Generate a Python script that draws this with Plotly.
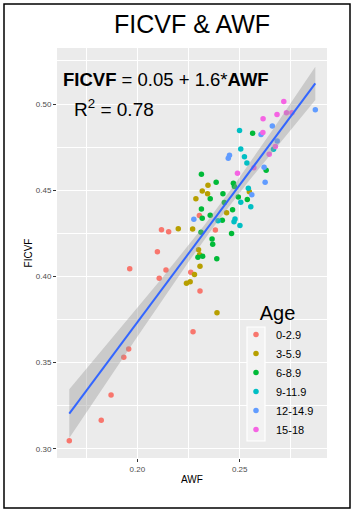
import numpy as np
import plotly.graph_objects as go

# ---------------- data ----------------
age_groups = ["0-2.9", "3-5.9", "6-8.9", "9-11.9", "12-14.9", "15-18"]
group_colors = ["#F8766D", "#B79F00", "#00BA38", "#00BFC4", "#619CFF", "#F564E3"]

awf_0_3 = [0.1668, 0.1824, 0.1872, 0.1934, 0.1958, 0.1963, 0.2098, 0.2107,
           0.2140, 0.2118, 0.2153, 0.2261, 0.2306, 0.2272, 0.2303, 0.2381]
ficvf_0_3 = [0.3046, 0.3165, 0.3312, 0.3530, 0.3578, 0.4044, 0.4143, 0.3989,
             0.4037, 0.4270, 0.4259, 0.4024, 0.3915, 0.3679, 0.4353, 0.4269]

awf_3_6 = [0.2200, 0.2270, 0.2299, 0.2304, 0.2306, 0.2279, 0.2240, 0.2258,
           0.2389, 0.2345, 0.2317, 0.2343, 0.2286, 0.2436, 0.2547]
ficvf_3_6 = [0.4276, 0.4275, 0.4155, 0.4125, 0.4058, 0.4011, 0.3960, 0.3968,
             0.3789, 0.4528, 0.4495, 0.4479, 0.4451, 0.4369, 0.4491]

awf_6_9 = [0.2313, 0.2385, 0.2469, 0.2474, 0.2418, 0.2356, 0.2493, 0.2537,
           0.2425, 0.2313, 0.2465, 0.2356, 0.2317, 0.2415, 0.2311, 0.2460,
           0.2365, 0.2368, 0.2296, 0.2319, 0.2388, 0.2563, 0.2629]
ficvf_6_9 = [0.4592, 0.4546, 0.4540, 0.4521, 0.4479, 0.4451, 0.4460, 0.4446,
             0.4428, 0.4391, 0.4386, 0.4355, 0.4337, 0.4325, 0.4256, 0.4249,
             0.4217, 0.4186, 0.4111, 0.4116, 0.4102, 0.4831, 0.4616]

awf_9_12 = [0.2499, 0.2505, 0.2523, 0.2535, 0.2665, 0.2542, 0.2505, 0.2554,
            0.2477, 0.2472, 0.2394, 0.2501]
ficvf_9_12 = [0.4847, 0.4739, 0.4694, 0.4657, 0.4738, 0.4511, 0.4430, 0.4404,
              0.4333, 0.4317, 0.4322, 0.4295]

awf_12_15 = [0.2869, 0.2659, 0.2604, 0.2683, 0.2450, 0.2444, 0.2619, 0.2624,
             0.2559, 0.2276]
ficvf_12_15 = [0.4967, 0.4872, 0.4823, 0.4785, 0.4702, 0.4685, 0.4633, 0.4546,
               0.4474, 0.4332]

awf_15_18 = [0.2715, 0.2682, 0.2728, 0.2755, 0.2614, 0.2613, 0.2674, 0.2644,
             0.2569, 0.2489]
ficvf_15_18 = [0.5015, 0.4939, 0.4950, 0.4950, 0.4915, 0.4835, 0.4753, 0.4709,
               0.4630, 0.4598]

x_tickvals = [0.20, 0.25]
x_ticktext = ["0.20", "0.25"]
y_tickvals = [0.30, 0.35, 0.40, 0.45, 0.50]
y_ticktext = ["0.30", "0.35", "0.40", "0.45", "0.50"]
x_minor = [0.175, 0.225, 0.275]
y_minor = [0.325, 0.375, 0.425, 0.475, 0.525]

groups_x = [awf_0_3, awf_3_6, awf_6_9, awf_9_12, awf_12_15, awf_15_18]
groups_y = [ficvf_0_3, ficvf_3_6, ficvf_6_9, ficvf_9_12, ficvf_12_15, ficvf_15_18]

# ---------------- regression (lm with 95% CI) ----------------
X = np.concatenate([np.array(g) for g in groups_x])
Y = np.concatenate([np.array(g) for g in groups_y])
n = len(X)
slope, intercept = np.polyfit(X, Y, 1)
xs = np.linspace(X.min(), X.max(), 100)
yhat = intercept + slope * xs
resid = Y - (intercept + slope * X)
s = np.sqrt(np.sum(resid ** 2) / (n - 2))
xm = X.mean()
sxx = np.sum((X - xm) ** 2)
se = s * np.sqrt(1.0 / n + (xs - xm) ** 2 / sxx)
tval = 1.99
upper = yhat + tval * se
lower = yhat - tval * se

# ---------------- figure ----------------
W, H = 354, 512
ML, MR, MT, MB = 57, 27, 48, 54
PW, PH = W - ML - MR, H - MT - MB

def px_x(p):
    return (p - ML) / PW

def px_y(p):
    return (H - MB - p) / PH

fig = go.Figure()
for name, col, gx, gy in zip(age_groups, group_colors, groups_x, groups_y):
    fig.add_trace(go.Scatter(x=gx, y=gy, mode="markers", name=name,
                             marker=dict(color=col, size=5.5, line=dict(width=0))))

fig.add_trace(go.Scatter(x=np.concatenate([xs, xs[::-1]]),
                         y=np.concatenate([upper, lower[::-1]]),
                         fill="toself", fillcolor="rgba(153,153,153,0.4)",
                         line=dict(width=0), mode="lines", showlegend=False,
                         hoverinfo="skip"))
fig.add_trace(go.Scatter(x=xs, y=yhat, mode="lines", showlegend=False,
                         line=dict(color="#3366FF", width=2)))

fig.update_layout(
    width=W, height=H,
    margin=dict(l=ML, r=MR, t=MT, b=MB),
    paper_bgcolor="white", plot_bgcolor="#EBEBEB",
    font=dict(family="Liberation Sans, Arial, sans-serif", color="black"),
    title=dict(text="FICVF & AWF", x=0.5, xref="paper", xanchor="center",
               y=1 - 24 / H, yanchor="middle",
               font=dict(size=25, color="black")),
    showlegend=True,
    legend=dict(x=px_x(236), y=px_y(294), xanchor="left", yanchor="top",
                bgcolor="rgba(0,0,0,0)", borderwidth=0,
                font=dict(size=11, color="black"),
                title=dict(text="Age", side="top center", font=dict(size=20)),
                tracegroupgap=0),
    xaxis=dict(range=[0.1608, 0.2926], tickvals=x_tickvals, ticktext=x_ticktext,
               showgrid=True, gridcolor="white", gridwidth=1.1, zeroline=False,
               ticks="outside", ticklen=3, tickcolor="#333333", tickwidth=1,
               tickfont=dict(size=8, color="#4D4D4D"),
               minor=dict(tickvals=x_minor, showgrid=True, gridcolor="white",
                          gridwidth=0.5),
               title=dict(text="AWF", font=dict(size=10, color="black"), standoff=3),
               automargin=False),
    yaxis=dict(range=[0.2946, 0.5325], tickvals=y_tickvals, ticktext=y_ticktext,
               showgrid=True, gridcolor="white", gridwidth=1.1, zeroline=False,
               ticks="outside", ticklen=3, tickcolor="#333333", tickwidth=1,
               tickfont=dict(size=8, color="#4D4D4D"),
               minor=dict(tickvals=y_minor, showgrid=True, gridcolor="white",
                          gridwidth=0.5),
               title=dict(text="FICVF", font=dict(size=10, color="black"), standoff=1),
               automargin=False),
    annotations=[
        dict(text="<b>FICVF</b> = 0.05 + 1.6*<b>AWF</b>", xref="paper", yref="paper",
             x=px_x(61), y=px_y(80), xanchor="left", yanchor="middle",
             showarrow=False, font=dict(size=18.5, color="black")),
        dict(text="R<sup>2</sup> = 0.78", xref="paper", yref="paper",
             x=px_x(72), y=px_y(108), xanchor="left", yanchor="middle",
             showarrow=False, font=dict(size=19, color="black")),
    ],
    shapes=[
        dict(type="rect", xref="paper", yref="paper",
             x0=px_x(247), x1=px_x(265), y0=px_y(441), y1=px_y(327),
             line=dict(color="white", width=1.2), fillcolor="#F2F2F2",
             layer="above"),
        dict(type="rect", xref="paper", yref="paper",
             x0=px_x(4), x1=px_x(350), y0=px_y(508), y1=px_y(4),
             line=dict(color="black", width=1.5), fillcolor="rgba(0,0,0,0)",
             layer="above"),
    ],
)

fig.write_html("out.html", config={"displayModeBar": False},
               post_script="document.body.style.margin='0';document.body.style.padding='0';")
